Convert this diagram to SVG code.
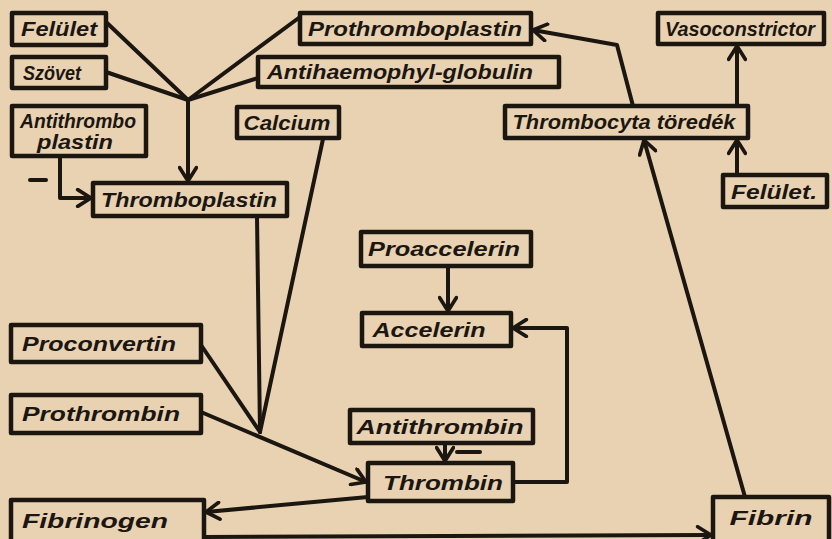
<svg xmlns="http://www.w3.org/2000/svg" width="832" height="539" viewBox="0 0 832 539">
<defs>
<style>
.bx{fill:none;stroke:#1c1611;stroke-width:4.5;stroke-linejoin:round}
.t{font-family:"Liberation Sans","DejaVu Sans",sans-serif;font-style:italic;font-weight:bold;font-size:20px;fill:#1c1611;dominant-baseline:central;text-anchor:middle}
.ln{fill:none;stroke:#1c1611;stroke-width:4;stroke-linejoin:round;stroke-linecap:round}
.ar{marker-end:url(#ah)}
.mn{stroke:#1c1611;stroke-width:4;stroke-linecap:round}
</style>
<marker id="ah" viewBox="0 0 12 12" refX="10" refY="6" markerWidth="5" markerHeight="5" orient="auto" markerUnits="strokeWidth">
<path d="M2,1 L10,6 L2,11" fill="none" stroke="#1c1611" stroke-width="2.2" stroke-linecap="round" stroke-linejoin="round"/>
</marker>
</defs>
<rect width="832" height="539" fill="#e8d2b2"/>

<g id="connectors">
<path class="ln" d="M106,22 L188,100"/>
<path class="ln" d="M106,72 L188,100"/>
<path class="ln" d="M300,17 L188,100"/>
<path class="ln" d="M258,78 L188,100"/>
<path class="ln ar" d="M188,100 L188,181"/>
<path class="ln ar" d="M60,157 L60,198 L91,198"/>
<line class="mn" x1="30" y1="180" x2="46" y2="180"/>
<path class="ln" d="M257,217 L260,432"/>
<path class="ln" d="M323,139 L260,432"/>
<path class="ln" d="M201,345 L260,432"/>
<path class="ln ar" d="M201,412 L366,482"/>
<path class="ln ar" d="M368,497 L206,512"/>
<path class="ln ar" d="M513,482 L567,482 L567,328 L513,328"/>
<path class="ln ar" d="M448,266 L448,311"/>
<path class="ln ar" d="M445,443 L445,461"/>
<line class="mn" x1="457" y1="452" x2="480" y2="452"/>
<path class="ln ar" d="M204,537 L711,535"/>
<path class="ln ar" d="M745,497 L644,140"/>
<path class="ln ar" d="M633,106 L617,45 L533,30"/>
<path class="ln ar" d="M737,106 L737,46"/>
<path class="ln ar" d="M737,175 L737,140"/>
</g>

<g id="n-felulet"><rect class="bx" x="12" y="13" width="94" height="32"/><text class="t" x="59" y="29" textLength="76" lengthAdjust="spacingAndGlyphs">Felület</text></g>
<g id="n-szovet"><rect class="bx" x="12" y="57" width="94" height="31"/><text class="t" x="52" y="73" textLength="58" lengthAdjust="spacingAndGlyphs">Szövet</text></g>
<g id="n-antithromboplastin"><rect class="bx" x="12" y="106" width="134" height="50"/><text class="t" x="78" y="121" textLength="116" lengthAdjust="spacingAndGlyphs">Antithrombo</text><text class="t" x="75" y="142" textLength="76" lengthAdjust="spacingAndGlyphs">plastin</text></g>
<g id="n-thromboplastin"><rect class="bx" x="93" y="183" width="194" height="33"/><text class="t" x="189" y="200" textLength="176" lengthAdjust="spacingAndGlyphs">Thromboplastin</text></g>
<g id="n-calcium"><rect class="bx" x="237" y="107" width="102" height="31"/><text class="t" x="287" y="123" textLength="87" lengthAdjust="spacingAndGlyphs">Calcium</text></g>
<g id="n-prothromboplastin"><rect class="bx" x="300" y="13" width="231" height="31"/><text class="t" x="415" y="29" textLength="214" lengthAdjust="spacingAndGlyphs">Prothromboplastin</text></g>
<g id="n-antihaemophyl"><rect class="bx" x="258" y="57" width="301" height="30"/><text class="t" x="400" y="72" textLength="266" lengthAdjust="spacingAndGlyphs">Antihaemophyl-globulin</text></g>
<g id="n-vasoconstrictor"><rect class="bx" x="658" y="13" width="166" height="31"/><text class="t" x="740" y="29" textLength="150" lengthAdjust="spacingAndGlyphs">Vasoconstrictor</text></g>
<g id="n-thrombocyta"><rect class="bx" x="505" y="106" width="243" height="32"/><text class="t" x="624" y="122" textLength="223" lengthAdjust="spacingAndGlyphs">Thrombocyta töredék</text></g>
<g id="n-felulet2"><rect class="bx" x="723" y="175" width="104" height="32"/><text class="t" x="774" y="192" textLength="86" lengthAdjust="spacingAndGlyphs">Felület.</text></g>
<g id="n-proaccelerin"><rect class="bx" x="361" y="232" width="170" height="34"/><text class="t" x="444" y="249" textLength="152" lengthAdjust="spacingAndGlyphs">Proaccelerin</text></g>
<g id="n-accelerin"><rect class="bx" x="362" y="313" width="149" height="33"/><text class="t" x="429" y="330" textLength="113" lengthAdjust="spacingAndGlyphs">Accelerin</text></g>
<g id="n-antithrombin"><rect class="bx" x="350" y="410" width="183" height="33"/><text class="t" x="440" y="427" textLength="167" lengthAdjust="spacingAndGlyphs">Antithrombin</text></g>
<g id="n-thrombin"><rect class="bx" x="368" y="463" width="145" height="38"/><text class="t" x="443" y="483" textLength="120" lengthAdjust="spacingAndGlyphs">Thrombin</text></g>
<g id="n-proconvertin"><rect class="bx" x="11" y="325" width="190" height="37"/><text class="t" x="99" y="344" textLength="154" lengthAdjust="spacingAndGlyphs">Proconvertin</text></g>
<g id="n-prothrombin"><rect class="bx" x="11" y="395" width="190" height="38"/><text class="t" x="101" y="414" textLength="158" lengthAdjust="spacingAndGlyphs">Prothrombin</text></g>
<g id="n-fibrinogen"><rect class="bx" x="11" y="500" width="193" height="46"/><text class="t" x="95" y="521" textLength="146" lengthAdjust="spacingAndGlyphs">Fibrinogen</text></g>
<g id="n-fibrin"><rect class="bx" x="713" y="497" width="116" height="48"/><text class="t" x="771" y="518" textLength="83" lengthAdjust="spacingAndGlyphs">Fibrin</text></g>
</svg>
